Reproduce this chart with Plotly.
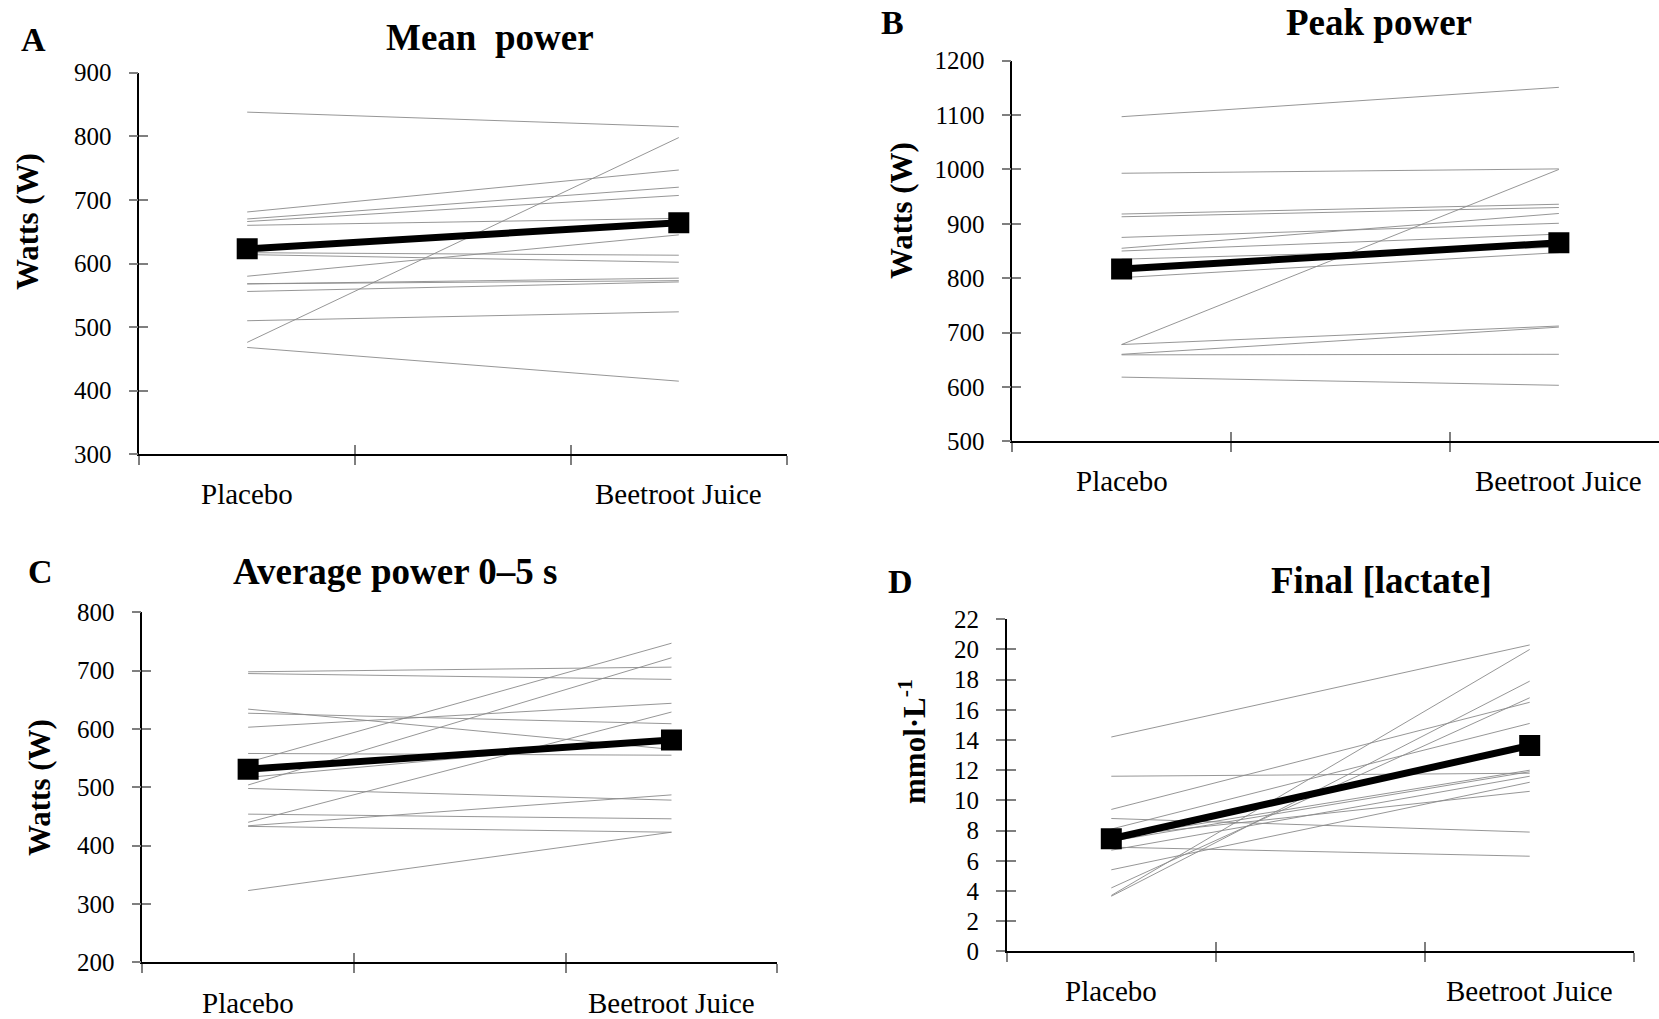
import plotly.graph_objects as go

W, H = 1659, 1019

categories = ["Placebo", "Beetroot Juice"]

# Panel A - Mean power (W)
a_placebo = [838, 681, 670, 666, 660, 620, 617, 614, 580, 568, 568, 556, 510, 476, 468]
a_beet    = [815, 747, 720, 707, 671, 664, 613, 602, 645, 577, 573, 571, 524, 798, 415]
a_mean = [623, 664]

# Panel B - Peak power (W)
b_placebo = [1097, 993, 678, 918, 913, 875, 855, 850, 835, 801, 678, 660, 659, 618]
b_beet    = [1151, 1001, 1000, 936, 930, 901, 919, 881, 857, 847, 712, 710, 660, 603]
b_mean = [817, 865]

# Panel C - Average power 0-5 s (W)
c_placebo = [698, 695, 634, 627, 603, 558, 543, 517, 504, 498, 454, 440, 434, 433, 323]
c_beet    = [706, 685, 565, 609, 644, 555, 747, 583, 722, 478, 446, 629, 487, 423, 423]
c_mean = [531, 581]

# Panel D - Final lactate (mmol/L)
d_placebo = [14.2, 11.6, 9.4, 8.8, 8.1, 7.5, 6.9, 6.7, 5.4, 4.2, 3.7, 3.65, 7.3, 7.6]
d_beet    = [20.3, 11.8, 16.5, 7.9, 15.1, 12.0, 6.3, 11.6, 11.2, 16.8, 20.0, 17.9, 11.9, 10.6]
d_mean = [7.46, 13.63]

titles = ["Mean  power", "Peak power", "Average power 0\u20135 s", "Final [lactate]"]
letters = ["A", "B", "C", "D"]
ytitles = ["Watts (W)", "Watts (W)", "Watts (W)", "mmol\u00b7L<sup>-1</sup>"]
yranges = [(300, 900, 100), (500, 1200, 100), (200, 800, 100), (0, 22, 2)]

# layout geometry in pixels: (x_left, x_right, y_top, y_bottom, x_range_max)
geom = [
    (139.3, 786.7, 72.7, 454.3, 3.0),
    (1012.3, 1659.0, 60.7, 441.3, 2.958),
    (142.3, 777.3, 612.3, 962.3, 3.0),
    (1006.7, 1634.3, 619.3, 951.3, 3.0),
]
title_pos = [(490, 38), (1379, 23), (395, 571), (1381, 580)]
letter_pos = [(33, 39), (892, 23), (40, 571), (901, 581)]
ytitle_pos = [(28, 222), (901, 210), (39, 788), (912, 742)]
ytitle_size = [31, 31, 31, 31]
cat_label_y = [494, 481, 1003, 991]

cat_x = [0.5, 2.5]
boundary_ticks = [0, 1, 2, 3]

SERIF = "Liberation Serif"
LINE_GRAY = "#8a8a8a"
TICK_GRAY = "#7f7f7f"

panels = [
    (a_placebo, a_beet, a_mean),
    (b_placebo, b_beet, b_mean),
    (c_placebo, c_beet, c_mean),
    (d_placebo, d_beet, d_mean),
]

fig = go.Figure()
layout = dict(
    width=W, height=H,
    margin=dict(l=0, r=0, t=0, b=0, autoexpand=False),
    paper_bgcolor="white", plot_bgcolor="white",
    showlegend=False,
    font=dict(family=SERIF, color="black"),
)
annotations = []

def px_x(v):
    return v / W

def px_y(v):
    return 1 - v / H

for i, (pl, bj, mn) in enumerate(panels):
    n = i + 1
    xl, xr, yt, yb, xmax = geom[i]
    xs = "" if n == 1 else str(n)
    xname, yname = "x" + xs, "y" + xs
    ov = str(n + 4)
    for p, b in zip(pl, bj):
        fig.add_trace(go.Scatter(
            x=cat_x, y=[p, b], mode="lines",
            line=dict(color=LINE_GRAY, width=0.9),
            xaxis=xname, yaxis=yname, hoverinfo="skip"))
    fig.add_trace(go.Scatter(
        x=cat_x, y=mn, mode="lines+markers",
        line=dict(color="black", width=7),
        marker=dict(symbol="square", size=21, color="black"),
        xaxis=xname, yaxis=yname))

    y0, y1, dt = yranges[i]
    yvals = list(range(y0, y1 + 1, dt))
    dom_x = [px_x(xl), px_x(xr)]
    dom_y = [px_y(yb), px_y(yt)]
    layout["xaxis" + xs] = dict(
        domain=dom_x, range=[0, xmax], anchor=yname, automargin=False,
        tickmode="array", tickvals=boundary_ticks, showticklabels=False,
        ticks="outside", ticklen=9, tickwidth=1.5, tickcolor=TICK_GRAY,
        showline=True, linecolor="black", linewidth=1.5,
        showgrid=False, zeroline=False, fixedrange=True)
    layout["yaxis" + xs] = dict(
        domain=dom_y, range=[y0, y1], anchor=xname, automargin=False,
        tickmode="array", tickvals=yvals,
        ticks="outside", ticklen=9, tickwidth=1.5, tickcolor=TICK_GRAY,
        ticklabelstandoff=12,
        tickfont=dict(family=SERIF, size=25, color="black"),
        showline=True, linecolor="black", linewidth=1.5,
        showgrid=False, zeroline=False, fixedrange=True)
    # overlay axes giving the inner half of the crossing tick marks
    layout["xaxis" + ov] = dict(
        overlaying=xname, anchor=yname, range=[0, xmax], automargin=False,
        tickmode="array", tickvals=boundary_ticks, showticklabels=False,
        ticks="inside", ticklen=9, tickwidth=1.5, tickcolor=TICK_GRAY,
        showline=False, showgrid=False, zeroline=False, fixedrange=True)
    layout["yaxis" + ov] = dict(
        overlaying=yname, anchor=xname, range=[y0, y1], side="left",
        automargin=False,
        tickmode="array", tickvals=yvals, showticklabels=False,
        ticks="inside", ticklen=9, tickwidth=1.5, tickcolor=TICK_GRAY,
        showline=False, showgrid=False, zeroline=False, fixedrange=True)
    fig.add_trace(go.Scatter(x=[None], y=[None], xaxis="x" + ov, yaxis=yname,
                             mode="lines", hoverinfo="skip"))
    fig.add_trace(go.Scatter(x=[None], y=[None], xaxis=xname, yaxis="y" + ov,
                             mode="lines", hoverinfo="skip"))

    # category labels
    for c, cx in zip(categories, cat_x):
        annotations.append(dict(
            x=cx, xref=xname, y=px_y(cat_label_y[i]), yref="paper",
            text=c, showarrow=False, xanchor="center", yanchor="middle",
            font=dict(family=SERIF, size=29, color="black")))
    # title
    tx, ty = title_pos[i]
    annotations.append(dict(
        x=px_x(tx), y=px_y(ty), xref="paper", yref="paper",
        text="<b>" + titles[i] + "</b>", showarrow=False,
        xanchor="center", yanchor="middle",
        font=dict(family=SERIF, size=37, color="black")))
    # panel letter
    lx, ly = letter_pos[i]
    annotations.append(dict(
        x=px_x(lx), y=px_y(ly), xref="paper", yref="paper",
        text="<b>" + letters[i] + "</b>", showarrow=False,
        xanchor="center", yanchor="middle",
        font=dict(family=SERIF, size=34, color="black")))
    # y-axis title
    yx, yy = ytitle_pos[i]
    annotations.append(dict(
        x=px_x(yx), y=px_y(yy), xref="paper", yref="paper",
        text="<b>" + ytitles[i] + "</b>", showarrow=False, textangle=-90,
        xanchor="center", yanchor="middle",
        font=dict(family=SERIF, size=ytitle_size[i], color="black")))

layout["annotations"] = annotations
fig.update_layout(**layout)
fig.write_html("out.html",
               config={"displayModeBar": False, "staticPlot": False},
               post_script="document.body.style.margin='0';"
                           "document.body.style.overflow='hidden';")
